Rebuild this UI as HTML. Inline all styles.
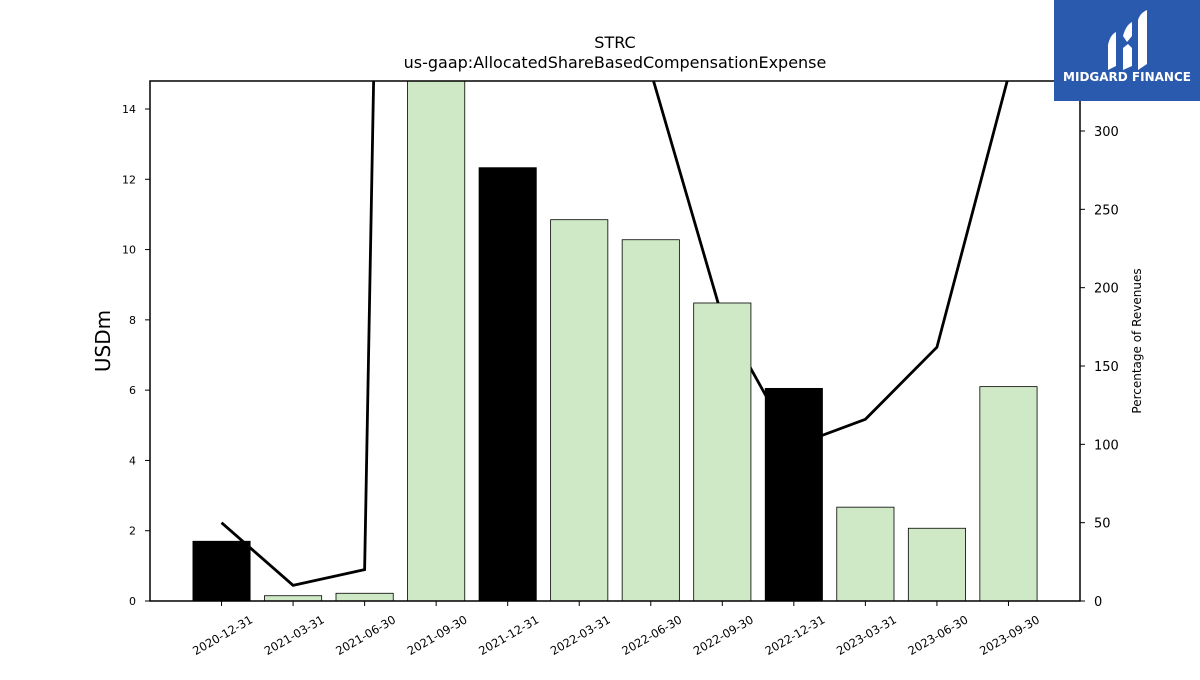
<!DOCTYPE html>
<html><head><meta charset="utf-8"><style>
body{margin:0;background:#fff;font-family:"Liberation Sans","DejaVu Sans",sans-serif}
svg text{font-family:"DejaVu Sans","Liberation Sans",sans-serif}
</style></head><body>
<svg id="chart" width="1200" height="675" xmlns="http://www.w3.org/2000/svg">
<text x="615" y="48" text-anchor="middle" font-size="16">STRC</text>
<text x="615" y="68" text-anchor="middle" font-size="16">us-gaap:AllocatedShareBasedCompensationExpense</text>
<defs><clipPath id="pc"><rect x="150" y="81" width="930" height="520"/></clipPath></defs>
<g id="lineg" clip-path="url(#pc)"></g>
<g id="bars" clip-path="url(#pc)"></g>
<rect x="150" y="81" width="930" height="520" fill="none" stroke="#000" stroke-width="1.5"/>
<g id="axes"></g>
<text transform="translate(110,341) rotate(-90)" text-anchor="middle" font-size="20">USDm</text>
<text transform="translate(1141,341) rotate(-90)" text-anchor="middle" font-size="12">Percentage of Revenues</text>
<g>
<rect x="1054" y="0" width="146" height="101" fill="#2a5aad"/>
<path d="M1108 45 Q1110 35 1116 32 L1116 66 L1108 70 Z M1123 36 Q1126 25 1132 22 L1132 36 L1127 42 Z M1123 48 L1128 44 L1132 48 L1132 66 L1123 70 Z M1138 20 Q1140 13 1147 10 L1147 64 L1138 70 Z" fill="#fff"/>
<text x="1127" y="81" text-anchor="middle" font-size="12" font-weight="bold" fill="#fff" font-family="Liberation Sans,sans-serif">MIDGARD FINANCE</text>
</g>
</svg>
<script>
const categories=["2020-12-31","2021-03-31","2021-06-30","2021-09-30","2021-12-31","2022-03-31","2022-06-30","2022-09-30","2022-12-31","2023-03-31","2023-06-30","2023-09-30"];
const values=[1.7,0.15,0.22,16.5,12.33,10.85,10.28,8.48,6.05,2.67,2.07,6.1];
const pctRevenue=[50,10,20,2500,1500,800,338,181,99,116,162,335];
const annual=[true,false,false,false,true,false,false,false,true,false,false,false];
const leftTicks=[0,2,4,6,8,10,12,14];
const rightTicks=[0,50,100,150,200,250,300];
const NS="http://www.w3.org/2000/svg";
const x0=150,x1=1080,y0=601,yTop=81;
const step=(x1-x0)/(categories.length+1);
const xs=i=>x0+(i+1)*step;
const yL=v=>y0-v*(y0-109)/14;
const yR=v=>y0-v*(y0-131)/300;
function mk(t,a,p){const e=document.createElementNS(NS,t);for(const k in a)e.setAttribute(k,a[k]);p.appendChild(e);return e;}
const bars=document.getElementById('bars'),axes=document.getElementById('axes'),lg=document.getElementById('lineg');
const bw=step*0.8;
values.forEach((v,i)=>{
 const r=mk('rect',{x:xs(i)-bw/2,y:yL(v),width:bw,height:y0-yL(v),fill:annual[i]?'#000':'#cfe9c6',stroke:'#000','stroke-width':0.8},bars);
 
 
});
const pl=mk('polyline',{points:pctRevenue.map((v,i)=>xs(i)+','+yR(v)).join(' '),fill:'none',stroke:'#000','stroke-width':2.8},lg);


leftTicks.forEach(t=>{
 mk('line',{x1:145,x2:150,y1:yL(t),y2:yL(t),stroke:'#000'},axes);
 const tx=mk('text',{x:136,y:yL(t)+4,'text-anchor':'end','font-size':11},axes);tx.textContent=t;
 
 
});
rightTicks.forEach(t=>{
 mk('line',{x1:1080,x2:1085,y1:yR(t),y2:yR(t),stroke:'#000'},axes);
 const tx=mk('text',{x:1094,y:yR(t)+5,'font-size':13},axes);tx.textContent=t;
 
 
});
categories.forEach((c,i)=>{
 mk('line',{x1:xs(i),x2:xs(i),y1:601,y2:606,stroke:'#000'},axes);
 const tx=mk('text',{x:0,y:0,'text-anchor':'end','font-size':11.5,transform:`translate(${xs(i)+32},${622}) rotate(-30)`},axes);tx.textContent=c;
 
 
});
</script>
</body></html>
